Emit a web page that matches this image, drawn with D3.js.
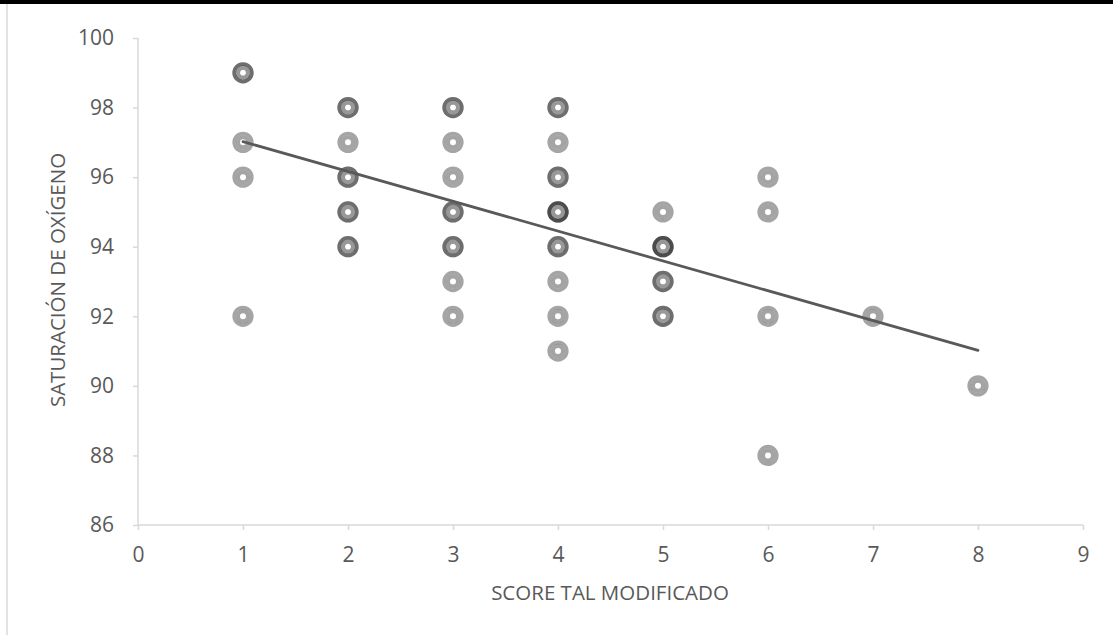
<!DOCTYPE html>
<html>
<head>
<meta charset="utf-8">
<script src="https://cdn.jsdelivr.net/npm/d3@7"></script>
<style>
  html, body { margin: 0; padding: 0; background: #fff; }
  svg { display: block; }
</style>
</head>
<body>
<svg id="chart" width="1113" height="635"></svg>
<script>
// Observed (score, saturation) pairs; repeated pairs are duplicate patients
const scoreValues = [
  1,1, 1, 1, 1,
  2,2, 2, 2,2, 2,2, 2,2,
  3,3, 3, 3, 3,3, 3,3, 3, 3,
  4,4, 4, 4,4, 4,4,4, 4,4, 4, 4, 4,
  5, 5,5,5, 5,5, 5,5,
  6, 6, 6, 6,
  7,
  8
];
const saturationValues = [
  99,99, 97, 96, 92,
  98,98, 97, 96,96, 95,95, 94,94,
  98,98, 97, 96, 95,95, 94,94, 93, 92,
  98,98, 97, 96,96, 95,95,95, 94,94, 93, 92, 91,
  95, 94,94,94, 93,93, 92,92,
  96, 95, 92, 88,
  92,
  90
];
// Linear trend line (Excel trendline) endpoints
const trendScores = [1, 8];
const trendSaturation = [97.02, 91.02];

const xTicks = [0,1,2,3,4,5,6,7,8,9];
const yTicks = [86,88,90,92,94,96,98,100];
const xTitle = "SCORE TAL MODIFICADO";
const yTitle = "SATURACIÓN DE OXÍGENO";

(function draw() {
  const svg = d3.select("#chart");
  const W = 1113, H = 635;
  const mLeft = 138, mRight = 1083, mTop = 38, mBottom = 525;

  const x = d3.scaleLinear().domain([0, 9]).range([mLeft, mRight]);
  const y = d3.scaleLinear().domain([86, 100]).range([mBottom, mTop]);

  // frame
  svg.append("rect").attr("x", 0).attr("y", 0).attr("width", W).attr("height", H).attr("fill", "#fff");
  svg.append("line").attr("x1", 7).attr("x2", 7).attr("y1", 4).attr("y2", H)
    .attr("stroke", "#d9d9d9").attr("stroke-width", 1.5);
  svg.append("line").attr("x1", 0).attr("x2", W).attr("y1", 2).attr("y2", 2)
    .attr("stroke", "#000").attr("stroke-width", 4);

  const font = "'Open Sans', 'Noto Sans', sans-serif";

  // Y axis
  const yAxis = d3.axisLeft(y).tickValues(yTicks).tickSize(5).tickPadding(19).tickFormat(d3.format("d"));
  const gy = svg.append("g").attr("transform", `translate(${mLeft},0)`).call(yAxis);
  gy.attr("font-size", null).attr("font-family", null);
  gy.select(".domain").attr("stroke", "#d9d9d9").attr("stroke-width", 1.5).attr("d", `M0,${mTop}V${mBottom}`);
  gy.selectAll(".tick line").attr("stroke", "#d9d9d9").attr("stroke-width", 1.5);
  gy.selectAll(".tick text").attr("fill", "#595959").style("font-family", font).style("font-size", "21px");

  // X axis
  const xAxis = d3.axisBottom(x).tickValues(xTicks).tickSize(5).tickPadding(17).tickFormat(d3.format("d"));
  const gx = svg.append("g").attr("transform", `translate(0,${mBottom})`).call(xAxis);
  gx.attr("font-size", null).attr("font-family", null);
  gx.select(".domain").attr("stroke", "#d9d9d9").attr("stroke-width", 1.5).attr("d", `M${mLeft},0H${mRight}`);
  gx.selectAll(".tick line").attr("stroke", "#d9d9d9").attr("stroke-width", 1.5);
  gx.selectAll(".tick text").attr("fill", "#595959").style("font-family", font).style("font-size", "21px");

  // Axis titles
  svg.append("text").attr("x", 610).attr("y", 600)
    .attr("text-anchor", "middle").attr("fill", "#595959")
    .style("font-family", font).style("font-size", "20.5px").text(xTitle);
  svg.append("text").attr("transform", `translate(65,280) rotate(-90)`)
    .attr("text-anchor", "middle").attr("fill", "#595959")
    .style("font-family", font).style("font-size", "20.5px").text(yTitle);

  // Points: each drawn as semi-transparent ring (outer + inner band)
  const pts = scoreValues.map((s, i) => ({ s, v: saturationValues[i] }));
  const gp = svg.append("g");
  gp.selectAll("circle.inner").data(pts).join("circle")
    .attr("class", "inner")
    .attr("cx", d => x(d.s)).attr("cy", d => y(d.v))
    .attr("r", 5.1).attr("fill", "none")
    .attr("stroke", "#979797").attr("stroke-opacity", 0.87).attr("stroke-width", 4.2);
  gp.selectAll("circle.outer").data(pts).join("circle")
    .attr("class", "outer")
    .attr("cx", d => x(d.s)).attr("cy", d => y(d.v))
    .attr("r", 8.9).attr("fill", "none")
    .attr("stroke", "#181818").attr("stroke-opacity", 0.39).attr("stroke-width", 3.5);

  // Trend line
  svg.append("line")
    .attr("x1", x(trendScores[0])).attr("y1", y(trendSaturation[0]))
    .attr("x2", x(trendScores[1])).attr("y2", y(trendSaturation[1]))
    .attr("stroke", "#595959").attr("stroke-width", 2.75).attr("stroke-linecap", "round");
})();
</script>
</body>
</html>
